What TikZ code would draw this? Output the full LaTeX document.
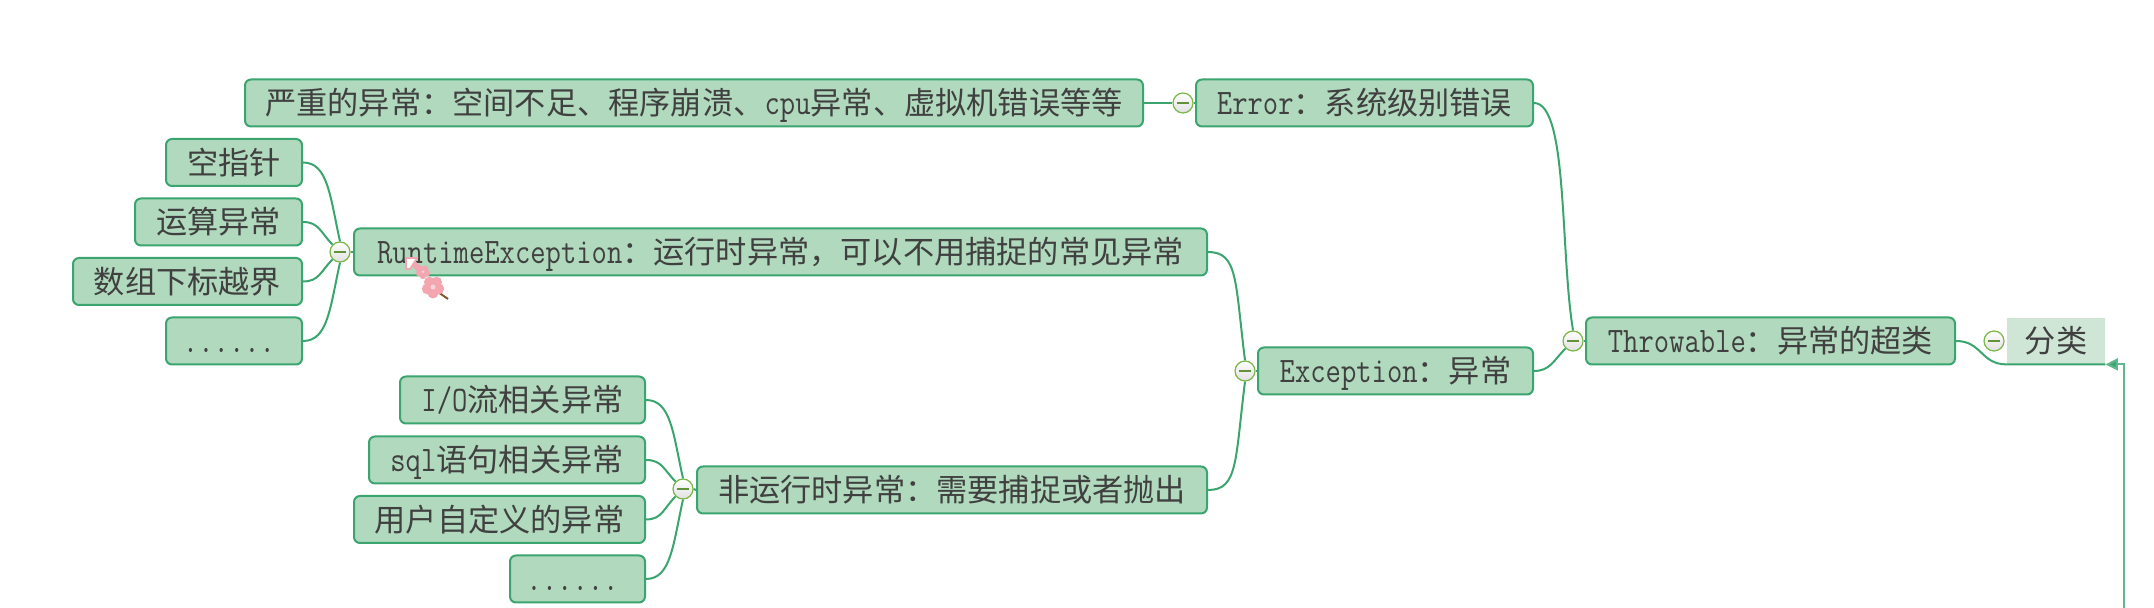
\documentclass[tikz,border=0pt]{standalone}
\usepackage{fontspec}
\setmainfont{Latin Modern Mono}[Scale=1.15,FakeStretch=0.83]
\newfontfamily\cjk{Noto Sans CJK SC}
\usetikzlibrary{arrows.meta}
\definecolor{linea}{HTML}{3BA56F}
\definecolor{relleno}{HTML}{B0D9BD}
\definecolor{claro}{HTML}{CFE6D7}
\definecolor{texto}{HTML}{404040}
\definecolor{pliegue}{HTML}{7AB648}
\definecolor{flor}{HTML}{F4A6B0}
\newcommand{\zh}[1]{{\cjk #1}}
\begin{document}
\begin{tikzpicture}[
    x=0.5pt,
    y=-0.5pt,
    >={Triangle[length=6.25pt,width=6pt,fill=linea]},
    font=\fontsize{15.6}{18}\selectfont,
    tema/.style={draw=linea,fill=relleno,line width=1pt,rounded corners=3pt,
        text=texto,inner sep=0pt,minimum height=23.5pt,minimum width=#1*0.5pt,
        text height=12pt,text depth=0pt},
    liso/.style={fill=claro,text=texto,inner sep=0pt,minimum height=23pt,minimum width=#1*0.5pt,
        text height=12pt,text depth=0pt},
    pliegue/.style={circle,draw=pliegue,line width=0.6pt,minimum size=10pt,inner sep=0pt,
        top color=white,bottom color=black!12,
        path picture={\draw[pliegue!80!black,line width=0.6pt]
            ([xshift=-3pt]path picture bounding box.center) -- ([xshift=3pt]path picture bounding box.center);}},
    rama/.style={draw=linea,line width=1pt}
]
    % Margen de la captura
    \useasboundingbox (0,0) rectangle (2154,608);

    % Temas
    \node[tema=369] (throwable) at (1770.5,341) {Throwable\zh{：异常的超类}};
    \node[liso=98] (fenlei) at (2056,341) {\zh{分类}};
    \node[tema=337] (error) at (1364.5,103) {Error\zh{：系统级别错误}};
    \node[tema=898] (grave) at (694,103) {\zh{严重的异常：空间不足、程序崩溃、}cpu\zh{异常、虚拟机错误等等}};
    \node[tema=275] (exception) at (1395.5,371) {Exception\zh{：异常}};
    \node[tema=853] (runtime) at (780.5,252) {RuntimeException\zh{：运行时异常，可以不用捕捉的常见异常}};
    \node[tema=510] (noruntime) at (952,490) {\zh{非运行时异常：需要捕捉或者抛出}};

    % Hojas de RuntimeException
    \node[tema=136] (puntero) at (234,162.5) {\zh{空指针}};
    \node[tema=167] (calculo) at (218.5,222) {\zh{运算异常}};
    \node[tema=229] (indice) at (187.5,281.5) {\zh{数组下标越界}};
    \node[tema=136] (masa) at (234,341) {......\hspace*{5pt}};

    % Hojas de no runtime
    \node[tema=245] (flujo) at (522.5,400) {I/O\zh{流相关异常}};
    \node[tema=276] (sql) at (507,460) {sql\zh{语句相关异常}};
    \node[tema=291] (propio) at (499.5,519.5) {\zh{用户自定义的异常}};
    \node[tema=135] (masb) at (577.5,579) {......\hspace*{5pt}};

    % Botones de plegado
    \foreach \nombre/\px/\py in {pa/1183/103,pb/1573/341,pc/1245/371,pd/340/252,pe/683/489,pf/1994/341}{
        \node[pliegue] (\nombre) at (\px,\py) {};
    }

    % Ramas
    \begin{scope}[rama]
        \draw (grave.east) -- (pa.west);
        \draw (pa.east) -- (error.west);
        \draw (pb.east) -- (throwable.west);
        \draw (pc.east) -- (exception.west);
        \draw (pd.east) -- (runtime.west);
        \draw (pe.east) -- (noruntime.west);
        \draw (error.east) .. controls +(34,0) and +(-13,-80) .. (pb.north);
        \draw (exception.east) .. controls +(16,0) and +(-12,12) .. (pb.south west);
        \draw (runtime.east) .. controls +(30,0) and +(-10,-80) .. (pc.north);
        \draw (noruntime.east) .. controls +(30,0) and +(-10,80) .. (pc.south);
        \foreach \a/\b in {puntero/pd,flujo/pe}{
            \draw (\a.east) .. controls +(25,0) and +(-10,-45) .. (\b.north);
        }
        \foreach \a/\b in {calculo/pd,sql/pe}{
            \draw (\a.east) .. controls +(16,0) and +(-12,-12) .. (\b.north west);
        }
        \foreach \a/\b in {indice/pd,propio/pe}{
            \draw (\a.east) .. controls +(16,0) and +(-12,12) .. (\b.south west);
        }
        \foreach \a/\b in {masa/pd,masb/pe}{
            \draw (\a.east) .. controls +(25,0) and +(-10,45) .. (\b.south);
        }
        \draw (throwable.east) .. controls +(26,0) and +(-26,0) .. (fenlei.south west) -- (fenlei.south east);
    \end{scope}

    % Flecha de retorno
    \coordinate (retorno) at (2124,608);
    \draw[->,line width=1pt,draw=linea!80] (retorno) |- (fenlei.south east);

    % Cursor
    \draw[line width=1pt,brown!70!black] (438,292) -- (448,299);
    \draw[line width=0.8pt,draw=flor,fill=white] (406,258) -- (417,258) -- (410,269) -- (406,269) -- cycle;
    \draw[line width=3pt,flor] (414,264) -- (424,274);
    \foreach \a in {18,90,162,234,306}{
        \fill[flor] (423,272) ++(\a:4) circle (3.2);
        \fill[flor] (433,287) ++(\a:6) circle (5.5);
    }
    \fill[white!50!flor] (423,272) circle (1.5);
    \fill[white!50!flor] (433,287) circle (2.5);
\end{tikzpicture}
\end{document}
